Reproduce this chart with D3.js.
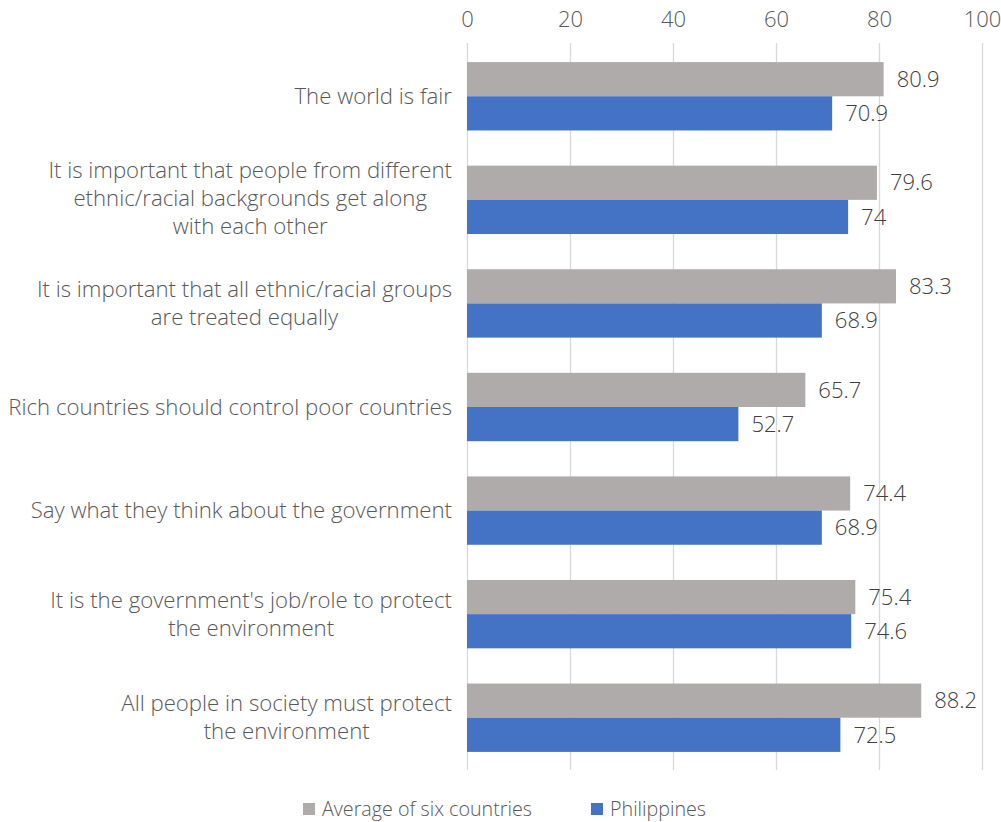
<!DOCTYPE html>
<html><head><meta charset="utf-8">
<script src="https://cdn.jsdelivr.net/npm/d3@7"></script>
<style>body{margin:0;background:#fff;} text{font-family:"Open Sans",sans-serif;font-weight:300;}</style>
</head><body>
<svg id="c" width="1001" height="822"></svg>
<script>
const categories = [
  ["The world is fair"],
  ["It is important that people from different","ethnic/racial backgrounds get along","with each other"],
  ["It is important that all ethnic/racial groups","are treated equally"],
  ["Rich countries should control poor countries"],
  ["Say what they think about the government"],
  ["It is the government's job/role to protect","the environment"],
  ["All people in society must protect","the environment"]
];
const seriesNames = ["Average of six countries","Philippines"];
const averageValues = [80.9,79.6,83.3,65.7,74.4,75.4,88.2];
const philippinesValues = [70.9,74,68.9,52.7,68.9,74.6,72.5];
const tickValues = [0,20,40,60,80,100];
const colors = ["#AFABAB","#4472C4"];

const svg = d3.select("#c");
const ids = categories.map((c,i)=>i);
const x = d3.scaleLinear().domain([0,100]).range([467,982]);
const y = d3.scaleBand().domain(ids).range([44.5,769.5]).paddingInner(0.34).paddingOuter(0.17);
const ys = d3.scaleBand().domain([0,1]).range([0,y.bandwidth()]);

// gridlines
svg.append("g").selectAll("line").data(tickValues).join("line")
  .attr("x1",d=>x(d)+0.5).attr("x2",d=>x(d)+0.5).attr("y1",43).attr("y2",770)
  .attr("stroke","#D9D9D9").attr("stroke-width",1.3);
// top axis labels
const ax = svg.append("g").attr("transform","translate(0,19)").call(d3.axisTop(x).tickValues(tickValues).tickSize(0).tickPadding(0));
ax.select(".domain").remove();
ax.selectAll("text").attr("font-family","Open Sans").attr("font-weight",300).attr("font-size",22).attr("fill","#595959").attr("dy","0.35em");

const series = [averageValues, philippinesValues];
series.forEach((vals,s)=>{
  const g = svg.append("g");
  g.selectAll("rect").data(vals).join("rect")
    .attr("x",x(0)).attr("y",(d,i)=>y(i)+ys(s))
    .attr("width",d=>x(d)-x(0)).attr("height",ys.bandwidth())
    .attr("fill",colors[s]);
  g.selectAll("text").data(vals).join("text")
    .attr("x",d=>x(d)+13).attr("y",(d,i)=>y(i)+ys(s)+ys.bandwidth()/2)
    .attr("dy","0.35em").attr("font-size",22).attr("fill","#404040")
    .text(d=>d);
});

// category labels
const lh = 28;
categories.forEach((lines,i)=>{
  const cy = y(i)+y.bandwidth()/2 - (lines.length===3?2:0);
  const t = svg.append("g");
  const txts = lines.map((ln,k)=>t.append("text")
     .attr("y", cy + (k-(lines.length-1)/2)*lh).attr("dy","0.35em")
     .attr("font-size",22.2).attr("fill","#595959").attr("text-anchor","middle").text(ln));
  const w = d3.max(txts, tt=>tt.node().getComputedTextLength());
  txts.forEach(tt=>tt.attr("x", 452 - w/2));
});

// legend
const lg = svg.append("g");
const legX = [303, 591];
seriesNames.forEach((n,s)=>{
  lg.append("rect").attr("x",legX[s]).attr("y",803).attr("width",12).attr("height",12).attr("fill",colors[s]);
  lg.append("text").attr("x",legX[s]+19).attr("y",809).attr("dy","0.35em").attr("font-size",19.7).attr("fill","#595959").text(n);
});
</script>
</body></html>
